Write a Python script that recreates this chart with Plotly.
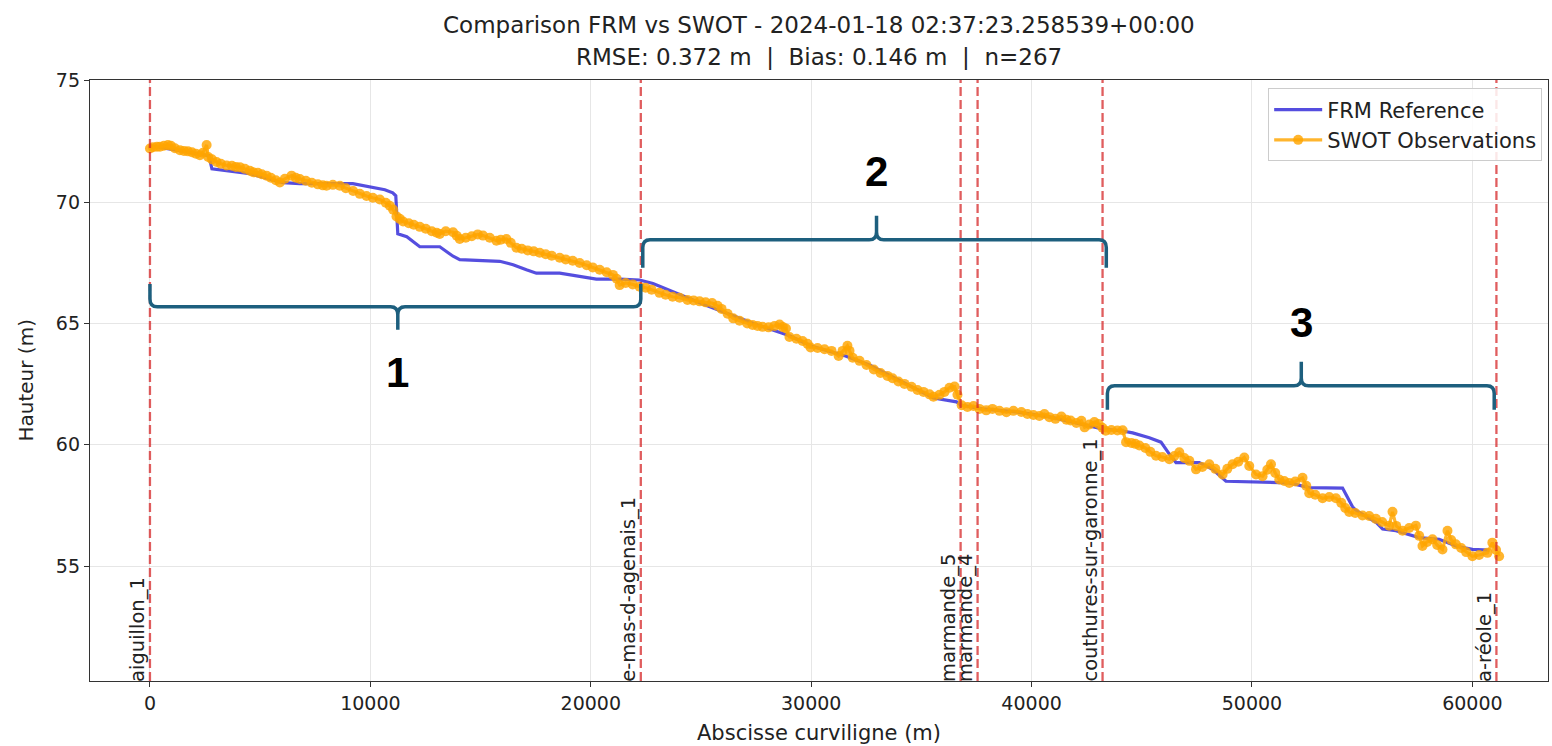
import plotly.graph_objects as go

# ---------------- data ----------------
frm_x = [0, 2494, 2675, 2811, 4534, 6031, 6801, 9205, 9749, 10656, 11018, 11154, 11245, 11653,
         12243, 13149, 13753, 14056, 15870, 16475, 17079, 17533, 18591, 19800, 20254, 21311,
         22218, 22822, 25166, 27569, 29020, 29972, 31559, 32647, 33962, 35549, 36592, 36773,
         37771, 39313, 40809, 42305, 43212, 44134, 44587, 45343, 45872, 46250, 46553, 47610,
         48214, 48819, 50481, 51691, 52598, 54109, 54562, 54716, 55623, 55926, 56531, 57586,
         58493, 59250, 60001, 60756]
frm_h = [72.32, 71.95, 71.91, 71.37, 71.17, 70.80, 70.76, 70.76, 70.67, 70.51, 70.38, 70.26, 68.69, 68.57,
         68.16, 68.16, 67.77, 67.63, 67.56, 67.42, 67.21, 67.07, 67.07, 66.89, 66.83, 66.83,
         66.79, 66.65, 65.77, 64.94, 64.49, 64.08, 63.66, 63.29, 62.67, 61.93, 61.77, 61.64,
         61.48, 61.36, 61.15, 60.86, 60.66, 60.57, 60.49, 60.29, 60.11, 59.62, 59.27, 59.27,
         58.99, 58.50, 58.47, 58.43, 58.24, 58.22, 57.45, 57.30, 56.81, 56.53, 56.46, 56.18,
         56.11, 55.83, 55.69, 55.66]

swot_x = [0, 136, 317, 453, 635, 816, 952, 1134, 1360, 1542, 1723, 1904, 2086, 2267, 2403, 2571, 2644,
          2811, 3024, 3219, 3478, 3718, 3900, 4081, 4308, 4534, 4684, 4897, 5078, 5292, 5487, 5713,
          5895, 6121, 6425, 6620, 6801, 7074, 7346, 7618, 7844, 8012, 8298, 8615, 8887, 9218, 9522,
          9826, 10111, 10429, 10701, 10882, 11032, 11186, 11336, 11485, 11744, 11971, 12243, 12515,
          12787, 13013, 13149, 13422, 13753, 13920, 14056, 14328, 14600, 14873, 15113, 15417, 15721,
          15915, 16174, 16369, 16627, 16868, 17140, 17412, 17684, 17956, 18228, 18591, 18863, 19180,
          19497, 19815, 20087, 20404, 20722, 21007, 21175, 21311, 21583, 21901, 22218,
          22490, 22762, 23116, 23397, 23714, 24032, 24390, 24667, 24939, 25211, 25505, 25755, 25936,
          26208, 26462, 26752, 27101, 27342, 27569, 27795, 28067, 28339, 28566, 28716, 28856, 29015,
          29333, 29609, 29836, 29972, 30289, 30607, 30924, 31246, 31425, 31645, 31740, 31885, 32194,
          32511, 32842, 33146, 33463, 33690, 33958, 34234, 34551, 34823, 35096, 35368, 35549, 35821,
          36048, 36274, 36506, 36637, 36828, 37091, 37363, 37635, 37943, 38224, 38542, 38859, 39176,
          39535, 39811, 40083, 40355, 40582, 40809, 41081, 41353, 41580, 41770, 42033, 42260, 42405,
          42622, 42849, 43044, 43212,
          43362, 43620, 43892, 44133, 44287, 44527, 44708, 44890, 45162, 45388, 45647, 45932, 46250,
          46477, 46703, 46930, 47157, 47460, 47746, 48064, 48336, 48667, 48880, 49120, 49379, 49651,
          49877, 50181, 50480, 50694, 50861, 51056, 51238, 51464, 51691, 51963, 52294, 52462, 52598,
          52870, 53201, 53505, 53809, 54049, 54231, 54412, 54684, 55015, 55318, 55622, 55908, 56225,
          56375, 56543, 56828, 57131, 57435, 57586, 57735, 57948, 58189, 58402, 58642, 58869, 59037,
          59250, 59490, 59715, 60001, 60305, 60682, 60905, 61075, 61213]
swot_h = [72.21, 72.26, 72.28, 72.28, 72.32, 72.35, 72.32, 72.22, 72.14, 72.11, 72.09, 72.05, 71.99, 71.93, 72.03, 72.35, 71.86,
          71.76, 71.65, 71.58, 71.51, 71.50, 71.45, 71.44, 71.37, 71.29, 71.23, 71.21, 71.15, 71.09, 71.00, 70.90,
          70.81, 70.96, 71.09, 71.00, 70.95, 70.88, 70.80, 70.73, 70.69, 70.67, 70.71, 70.67, 70.57, 70.46, 70.34,
          70.25, 70.18, 70.11, 69.97, 69.85, 69.69, 69.41, 69.31, 69.20, 69.13, 69.07, 68.98, 68.90,
          68.80, 68.74, 68.69, 68.80, 68.76, 68.61, 68.48, 68.53, 68.59, 68.67, 68.62, 68.53, 68.41,
          68.45, 68.48, 68.32, 68.12, 68.08, 68.01, 67.97, 67.91, 67.85, 67.79, 67.71, 67.64, 67.58,
          67.49, 67.40, 67.31, 67.21, 67.11, 67.00, 66.84, 66.58, 66.67, 66.61, 66.51,
          66.47, 66.39, 66.26, 66.18, 66.10, 66.06, 65.97, 65.95, 65.91, 65.87, 65.84, 65.73, 65.60,
          65.40, 65.21, 65.11, 65.00, 64.94, 64.90, 64.86, 64.84, 64.90, 64.96, 64.85, 64.79, 64.44,
          64.37, 64.28, 64.16, 64.01, 63.99, 63.94, 63.87, 63.66, 63.87, 64.08, 63.87, 63.59, 63.46,
          63.29, 63.10, 62.96, 62.84, 62.74, 62.61, 62.51, 62.39, 62.26, 62.18, 62.08, 61.98, 62.06,
          62.18, 62.35, 62.40, 62.06, 61.63, 61.56, 61.60, 61.48, 61.42, 61.48, 61.40, 61.34, 61.40,
          61.35, 61.27, 61.23, 61.19, 61.27, 61.14, 61.07, 61.17, 61.03, 61.00, 60.90, 60.99, 60.72,
          60.84, 60.94, 60.86, 60.70,
          60.58, 60.61, 60.59, 60.60, 60.11, 60.08, 60.04, 59.97, 59.87, 59.71, 59.55, 59.50, 59.41,
          59.54, 59.69, 59.46, 59.34, 58.99, 59.09, 59.20, 59.01, 58.78, 59.01, 59.20, 59.30, 59.48,
          59.13, 58.78, 58.71, 58.97, 59.20, 58.84, 58.57, 58.51, 58.43, 58.49, 58.64, 58.31, 58.01,
          57.94, 57.80, 57.85, 57.80, 57.61, 57.40, 57.23, 57.19, 57.09, 57.07, 56.95, 56.82, 56.67,
          57.24, 56.66, 56.46, 56.57, 56.67, 56.25, 55.83, 56.00, 56.11, 55.87, 55.69, 56.46, 56.08,
          55.90, 55.75, 55.58, 55.41, 55.46, 55.55, 55.97, 55.67, 55.41]

station_names = ["aiguillon_1", "e-mas-d-agenais_1", "marmande_5", "marmande_4",
                 "couthures-sur-garonne_1", "a-réole_1"]
station_x = [0, 22270, 36780, 37550, 43220, 61090]

x_ticks = [0, 10000, 20000, 30000, 40000, 50000, 60000]
y_ticks = [55, 60, 65, 70, 75]

# brace annotations: (x_start, x_end, x_tip, y_bar, y_ends, y_tip, label, y_label)
braces = [
    (0, 22270, 11245, 65.69, 66.63, 64.74, "1", 62.96),
    (22360, 43390, 32965, 68.45, 67.29, 69.44, "2", 71.25),
    (43440, 60990, 52236, 62.43, 61.44, 63.42, "3", 65.03),
]

TITLE_1 = "Comparison FRM vs SWOT - 2024-01-18 02:37:23.258539+00:00"
TITLE_2 = "RMSE: 0.372 m  |  Bias: 0.146 m  |  n=267"

# ---------------- figure ----------------
FONT = "DejaVu Sans"
fig = go.Figure()

fig.add_trace(go.Scatter(
    x=frm_x, y=frm_h, mode="lines", name="FRM Reference",
    line=dict(color="rgba(20,10,210,0.72)", width=3.2),
))
fig.add_trace(go.Scatter(
    x=swot_x, y=swot_h, mode="lines+markers", name="SWOT Observations",
    line=dict(color="rgba(255,165,0,0.82)", width=3.2),
    marker=dict(color="rgba(255,165,0,0.82)", size=10),
))

shapes = []
annotations = []
for sx, name in zip(station_x, station_names):
    shapes.append(dict(type="line", xref="x", yref="paper", x0=sx, x1=sx, y0=0, y1=1,
                       line=dict(color="rgba(214,39,40,0.75)", width=2.3, dash="9px,4px"), layer="above"))
    annotations.append(dict(x=sx, xref="x", y=0, yref="paper", text=name, textangle=-90,
                            showarrow=False, xanchor="right", yanchor="bottom", xshift=1, yshift=-3,
                            font=dict(family=FONT, size=19.5, color="#222")))

rx, ry = 330, 0.32
for (x0, x1, xt, yb, ye, yt, lab, yl) in braces:
    s = 1 if ye > yb else -1
    p = (f"M {x0},{ye} L {x0},{yb + s*ry} Q {x0},{yb} {x0 + rx},{yb} "
         f"L {xt - rx},{yb} Q {xt},{yb} {xt},{yb - s*ry} L {xt},{yt} "
         f"M {xt},{yb - s*ry} Q {xt},{yb} {xt + rx},{yb} "
         f"L {x1 - rx},{yb} Q {x1},{yb} {x1},{yb + s*ry} L {x1},{ye}")
    shapes.append(dict(type="path", xref="x", yref="y", path=p,
                       line=dict(color="#1d5f7e", width=3.5), layer="above"))
    annotations.append(dict(x=xt, xref="x", y=yl, yref="y", text=f"<b>{lab}</b>", showarrow=False,
                            font=dict(family="Liberation Sans", size=42, color="black")))

annotations.append(dict(x=0.5, xref="paper", y=1, yref="paper", yanchor="middle", yshift=55,
                        text=TITLE_1, showarrow=False, font=dict(family=FONT, size=23, color="#222")))
annotations.append(dict(x=0.5, xref="paper", y=1, yref="paper", yanchor="middle", yshift=23,
                        text=TITLE_2, showarrow=False, font=dict(family=FONT, size=23, color="#222")))
annotations.append(dict(x=0, xref="paper", y=0.5, yref="paper", xanchor="center", yanchor="middle",
                        xshift=-65, textangle=-90, text="Hauteur (m)", showarrow=False,
                        font=dict(family=FONT, size=20, color="#222")))

fig.update_layout(
    width=1552, height=746,
    margin=dict(l=90, r=4, t=80, b=65),
    paper_bgcolor="white", plot_bgcolor="white",
    font=dict(family=FONT, size=19, color="#222"),
    shapes=shapes, annotations=annotations,
    showlegend=True,
    legend=dict(x=0.996, y=0.986, xanchor="right", yanchor="top", itemwidth=48,
                bgcolor="rgba(255,255,255,0.85)", bordercolor="#cccccc", borderwidth=1,
                font=dict(family=FONT, size=21, color="#222")),
)
fig.update_xaxes(range=[-2720, 63430], tickvals=x_ticks, ticktext=[str(v) for v in x_ticks],
                 showgrid=True, gridcolor="#e6e6e6", gridwidth=1, zeroline=False,
                 showline=True, linecolor="#333", linewidth=1.3, mirror=True,
                 ticks="outside", ticklen=5, tickcolor="#333", tickfont=dict(size=19),
                 title=dict(text="Abscisse curviligne (m)", standoff=12,
                            font=dict(family=FONT, size=21)))
fig.update_yaxes(range=[50.27, 75.03], tickvals=y_ticks,
                 showgrid=True, gridcolor="#e6e6e6", gridwidth=1, zeroline=False,
                 showline=True, linecolor="#333", linewidth=1.3, mirror=True,
                 ticks="outside", ticklen=5, tickcolor="#333", tickfont=dict(size=19))

fig.write_html("out.html")
